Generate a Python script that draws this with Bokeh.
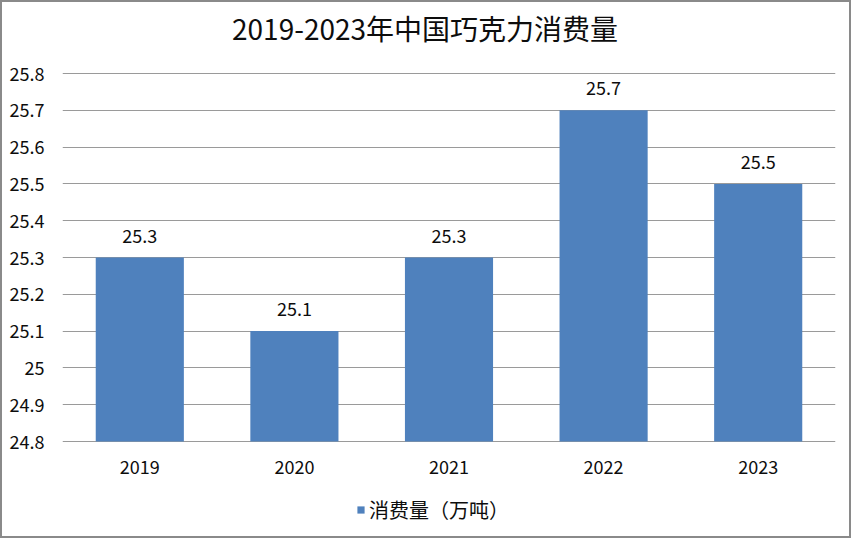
from bokeh.plotting import figure
from bokeh.models import (ColumnDataSource, FactorRange, FixedTicker,
                          CustomJSTickFormatter, Legend, LegendItem, Range1d)
from bokeh.embed import file_html
from bokeh.resources import INLINE
from bokeh.core.properties import value

# ---- data ----
years = ["2019", "2020", "2021", "2022", "2023"]
consumption = [25.3, 25.1, 25.3, 25.7, 25.5]
y_ticks = [24.8, 24.9, 25.0, 25.1, 25.2, 25.3, 25.4, 25.5, 25.6, 25.7, 25.8]
y_min, y_max = 24.8, 25.8
title_text = "2019-2023年中国巧克力消费量"
series_name = "消费量（万吨）"

FONT = "Noto Sans CJK SC"
TXT = "#0d0d0d"
GRID = "#9a9a9a"
BAR = "#4f81bd"

# layout (pixels)
PX_PER_UNIT = 368          # vertical pixels for one unit of the value axis
TOP_SPACE = 71             # space above the top gridline (title area)
BOTTOM_SPACE = 95          # space below the base line (category labels, legend)
FRAME_W = 773
FRAME_H = TOP_SPACE + PX_PER_UNIT + BOTTOM_SPACE
view_top = y_max + TOP_SPACE / PX_PER_UNIT
view_bottom = y_min - BOTTOM_SPACE / PX_PER_UNIT
title_y = y_max + 46 / PX_PER_UNIT
title_x = 2.345            # synthetic categorical coordinate of the chart centre

src = ColumnDataSource(dict(year=years, value=consumption,
                            base=[y_min] * len(years),
                            label=[f"{v:.1f}" for v in consumption]))

p = figure(frame_width=FRAME_W, frame_height=FRAME_H,
           x_range=FactorRange(*years, range_padding=0),
           y_range=Range1d(view_bottom, view_top),
           x_axis_location=None,
           output_backend="svg", toolbar_location=None,
           min_border_left=60, min_border_right=14,
           min_border_top=0, min_border_bottom=0)
p.styles = {"border": "2px solid #8a8a8a"}
p.outline_line_color = None
p.background_fill_color = "white"
p.border_fill_color = "white"

bars = p.vbar(x="year", top="value", bottom=y_min, width=0.57,
              fill_color=BAR, line_color=None, source=src)

# value labels above bars
p.text(x="year", y="value", text="label", y_offset=-15,
       text_align="center", text_baseline="bottom",
       text_font=value(FONT), text_font_size="18px", text_color=TXT,
       source=src)

# category labels under the base line
p.text(x="year", y="base", text="year", y_offset=25,
       text_align="center", text_baseline="middle",
       text_font=value(FONT), text_font_size="18px", text_color=TXT,
       source=src)

# chart title
p.text(x=[title_x], y=[title_y], text=[title_text],
       text_align="center", text_baseline="middle",
       text_font=value(FONT), text_font_size="28px", text_color=TXT)

# value axis
p.yaxis.ticker = FixedTicker(ticks=y_ticks)
p.yaxis.formatter = CustomJSTickFormatter(
    code="return (Math.round(tick*10)/10).toString();")
p.yaxis.axis_line_color = None
p.yaxis.major_tick_line_color = None
p.yaxis.minor_tick_line_color = None
p.yaxis.major_tick_out = 0
p.yaxis.major_tick_in = 0
p.yaxis.major_label_standoff = 18
p.yaxis.major_label_text_font = FONT
p.yaxis.major_label_text_font_size = "18px"
p.yaxis.major_label_text_color = TXT

p.xgrid.grid_line_color = None
p.ygrid.grid_line_color = GRID
p.ygrid.ticker = FixedTicker(ticks=y_ticks)

legend = Legend(items=[LegendItem(label=series_name, renderers=[bars])],
                location=(294, 12), orientation="horizontal",
                glyph_width=9, glyph_height=9, label_standoff=4,
                label_text_font=FONT, label_text_font_size="20px",
                label_text_color=TXT, border_line_color=None,
                background_fill_alpha=0, padding=0, margin=0)
p.add_layout(legend, "center")

open("out.html", "w").write(file_html(p, INLINE))
